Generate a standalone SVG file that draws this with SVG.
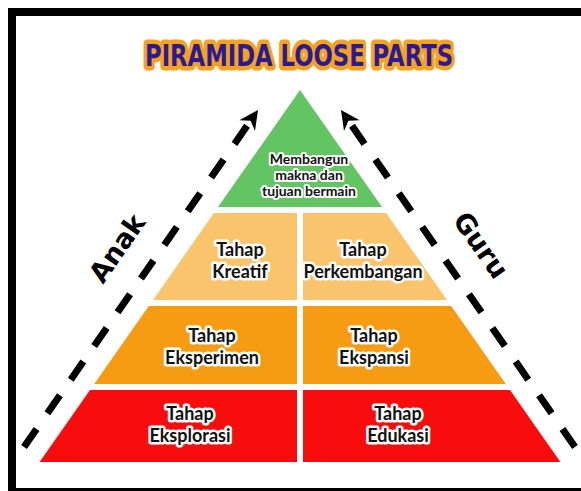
<svg xmlns="http://www.w3.org/2000/svg" width="581" height="491" viewBox="0 0 581 491">
  <defs>
    <style>
      .frame { fill: none; stroke: #000; stroke-width: 8; }
      .title { font-family: "DejaVu Sans", "Liberation Sans", sans-serif; font-weight: bold; font-size: 30px; fill: #2b1a94; stroke: #f6a21c; stroke-width: 9; stroke-linejoin: round; paint-order: stroke; text-anchor: middle; }
      .side { font-family: "DejaVu Sans", "Liberation Sans", sans-serif; font-weight: bold; font-size: 27px; fill: #000; text-anchor: middle; dominant-baseline: central; }
      .lbl { font-family: Lato, "DejaVu Sans", sans-serif; font-weight: bold; font-size: 18px; fill: #111; stroke: #fff; stroke-width: 5; stroke-linejoin: round; paint-order: stroke; text-anchor: middle; }
      .lbl-s { font-size: 14px; stroke-width: 4; }
      .dash { fill: none; stroke: #000; stroke-width: 7; stroke-dasharray: 22 19; }
      .t1 { fill: #62c462; }
      .t2 { fill: #f9c46b; }
      .t3 { fill: #f79b13; }
      .t4 { fill: #f80c0c; }
    </style>
    <marker id="head" markerUnits="userSpaceOnUse" orient="auto" markerWidth="40" markerHeight="40" refX="0" refY="0" overflow="visible">
      <path d="M13,0 L-6,-9.5 L0,0 L-6,9.5 Z" fill="#000"/>
    </marker>
  </defs>

  <rect x="0" y="0" width="581" height="491" fill="#fff"/>
  <rect class="frame" x="12" y="12" width="600" height="480"/>

  <text class="title" x="299" y="66" textLength="308" lengthAdjust="spacingAndGlyphs">PIRAMIDA LOOSE PARTS</text>

  <g id="connectors">
    <path class="dash" d="M24,447 L250.6,120.7" marker-end="url(#head)"/>
    <path class="dash" d="M575,447 L348.4,120.7" marker-end="url(#head)"/>
  </g>

  <text class="side" transform="translate(117,248) rotate(-55)">Anak</text>
  <text class="side" transform="translate(481,245) rotate(55)">Guru</text>

  <g id="top">
    <polygon class="t1" points="300,90 382,207 218,207"/>
    <text class="lbl lbl-s" x="309" y="164">Membangun</text>
    <text class="lbl lbl-s" x="309" y="180">makna dan</text>
    <text class="lbl lbl-s" x="309" y="196">tujuan bermain</text>
  </g>

  <g id="kreatif">
    <polygon class="t2" points="213.9,213 297,213 297,300 153,300"/>
    <text class="lbl" x="240" y="256">Tahap</text>
    <text class="lbl" x="240" y="278">Kreatif</text>
  </g>
  <g id="perkembangan">
    <polygon class="t2" points="303,213 386.1,213 447,300 303,300"/>
    <text class="lbl" x="363" y="256">Tahap</text>
    <text class="lbl" x="363" y="278">Perkembangan</text>
  </g>

  <g id="eksperimen">
    <polygon class="t3" points="148.8,306 297,306 297,384 94.2,384"/>
    <text class="lbl" x="212" y="342">Tahap</text>
    <text class="lbl" x="212" y="364">Eksperimen</text>
  </g>
  <g id="ekspansi">
    <polygon class="t3" points="303,306 451.2,306 505.8,384 303,384"/>
    <text class="lbl" x="374" y="342">Tahap</text>
    <text class="lbl" x="374" y="364">Ekspansi</text>
  </g>

  <g id="eksplorasi">
    <polygon class="t4" points="90,390 297,390 297,462 39.6,462"/>
    <text class="lbl" x="190" y="420">Tahap</text>
    <text class="lbl" x="190" y="442">Eksplorasi</text>
  </g>
  <g id="edukasi">
    <polygon class="t4" points="303,390 510,390 560.4,462 303,462"/>
    <text class="lbl" x="398" y="420">Tahap</text>
    <text class="lbl" x="398" y="442">Edukasi</text>
  </g>
</svg>
